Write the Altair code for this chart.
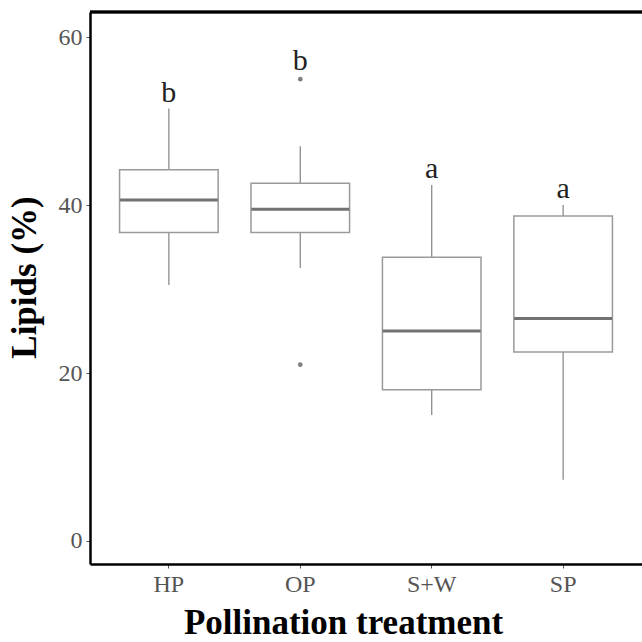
import altair as alt
import pandas as pd

categories = ["HP", "OP", "S+W", "SP"]
lower = [30.5, 32.5, 15.0, 7.3]
q1 = [36.75, 36.75, 18.0, 22.5]
median = [40.6, 39.5, 25.0, 26.5]
q3 = [44.2, 42.6, 33.8, 38.7]
upper = [51.5, 47.0, 42.4, 40.0]

outlier_cat = ["OP", "OP"]
outlier_val = [55.0, 21.0]

letters = ["b", "b", "a", "a"]
letter_y = [52.3, 56.1, 43.2, 40.8]

box_df = pd.DataFrame({
    "cat": categories, "lower": lower, "q1": q1, "median": median,
    "q3": q3, "upper": upper, "letter": letters, "ly": letter_y,
})
out_df = pd.DataFrame({"cat": outlier_cat, "val": outlier_val})

FONT = "Liberation Serif"
x_scale = alt.Scale(domain=categories, paddingInner=0, paddingOuter=0.1)
y_scale = alt.Scale(domain=[-2.74, 63], nice=False, zero=False)

x_enc = alt.X("cat:N", scale=x_scale, sort=categories,
              axis=alt.Axis(title="Pollination treatment", labelAngle=0,
                            titleX=253, titleY=69, titleAlign="center",
                            titleBaseline="alphabetic"))
y_enc_axis = alt.Axis(title="Lipids (%)", values=[0, 20, 40, 60], grid=False,
                      titleX=-55, titleY=265, titleAlign="center",
                      titleBaseline="alphabetic", titleAngle=-90)

base = alt.Chart(box_df)

whisker = base.mark_rule(color="#8c8c8c", strokeWidth=1.3).encode(
    x=x_enc,
    y=alt.Y("lower:Q", scale=y_scale, axis=y_enc_axis),
    y2="upper:Q",
)

box = base.mark_bar(
    width=alt.RelativeBandSize(0.75), fill="white", stroke="#9a9a9a", strokeWidth=1.5
).encode(
    x=x_enc,
    y=alt.Y("q1:Q", scale=y_scale),
    y2="q3:Q",
)

med = base.mark_tick(color="#727272", thickness=3, size=98, opacity=1).encode(
    x=x_enc,
    y=alt.Y("median:Q", scale=y_scale),
)

pts = alt.Chart(out_df).mark_circle(color="#808080", size=22, opacity=1).encode(
    x=alt.X("cat:N", scale=x_scale, sort=categories),
    y=alt.Y("val:Q", scale=y_scale),
)

txt = base.mark_text(font=FONT, fontSize=30, baseline="alphabetic", color="#222222").encode(
    x=x_enc,
    y=alt.Y("ly:Q", scale=y_scale),
    text="letter:N",
)

top_border = alt.Chart(box_df).mark_rule(color="black", strokeWidth=2.5).encode(
    y=alt.value(0)
)

chart = alt.layer(whisker, box, med, pts, txt, top_border).properties(
    width=552, height=552,
    autosize=alt.AutoSizeParams(type="none"),
    padding={"left": 90, "top": 12, "right": 0, "bottom": 78},
).configure_view(
    strokeWidth=0
).configure_axis(
    labelFont=FONT, titleFont=FONT, labelFontSize=24, titleFontSize=35,
    labelColor="#555555", titleColor="black", titleFontWeight="bold",
    tickColor="#555555", tickSize=4, domain=True, domainColor="black",
    domainWidth=2.5, labelPadding=4,
)

chart.save("out.html", embed_options={"renderer": "svg", "actions": False})
